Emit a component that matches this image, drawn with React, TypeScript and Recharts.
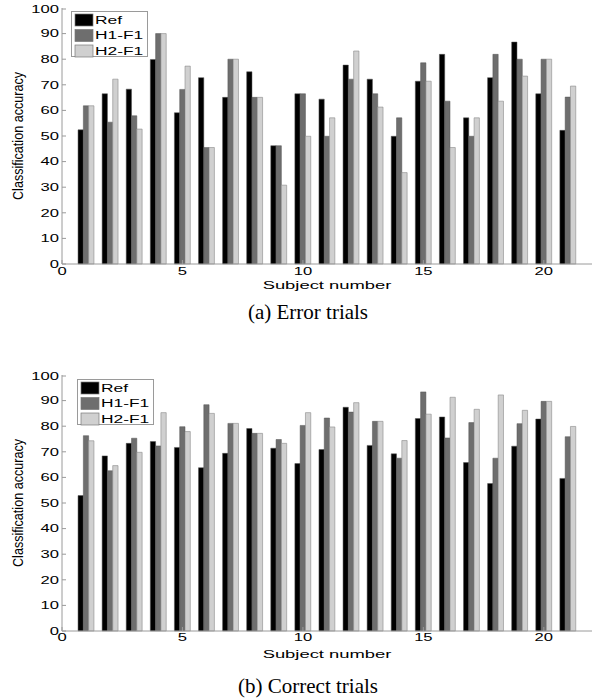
import React from "react";
import { BarChart, Bar, XAxis, YAxis, Legend } from "recharts";

const subjects = [1, 2, 3, 4, 5, 6, 7, 8, 9, 10, 11, 12, 13, 14, 15, 16, 17, 18, 19, 20, 21];
const seriesNames = ["Ref", "H1-F1", "H2-F1"];

// (a) Error trials
const errorRef = [52.4, 66.5, 68.3, 79.9, 59.1, 72.8, 65.1, 75.1, 46.2, 66.5, 64.4, 77.7, 72.2, 49.9, 71.4, 81.9, 57.1, 72.8, 86.7, 66.5, 52.2];
const errorH1 = [61.8, 55.4, 57.9, 90.0, 68.2, 45.5, 80.0, 65.1, 46.2, 66.5, 49.9, 72.2, 66.5, 57.1, 78.6, 63.6, 49.9, 81.9, 80.0, 80.0, 65.2];
const errorH2 = [61.8, 72.2, 52.7, 90.0, 77.3, 45.5, 80.0, 65.1, 30.8, 49.9, 57.1, 83.2, 61.3, 35.7, 71.4, 45.5, 57.1, 63.6, 73.4, 80.0, 69.5];

// (b) Correct trials
const correctRef = [52.9, 68.4, 73.3, 74.0, 71.7, 63.8, 69.4, 79.1, 71.4, 65.4, 70.9, 87.4, 72.5, 69.2, 83.0, 83.6, 65.8, 57.6, 72.2, 82.8, 59.6];
const correctH1 = [76.3, 62.6, 75.3, 72.3, 79.8, 88.4, 81.1, 77.2, 74.8, 80.3, 83.2, 85.5, 81.9, 67.5, 93.4, 75.4, 81.4, 67.5, 81.0, 89.7, 75.9];
const correctH2 = [74.3, 64.6, 69.8, 85.3, 77.9, 85.0, 81.1, 77.2, 73.3, 85.3, 79.7, 89.2, 81.9, 74.4, 84.7, 91.3, 86.6, 92.2, 86.2, 89.7, 79.9];

const xTicks = [0, 5, 10, 15, 20];
const yTicks = [0, 10, 20, 30, 40, 50, 60, 70, 80, 90, 100];

const COLORS = ["#000000", "#6e6e6e", "#d0d0d0"];
const AXIS = "#9a9a9a";
const FONT = "'Liberation Sans', Arial, Helvetica, sans-serif";
const SX = 1.58; // the figure is stretched sideways

// note: no "ref" key in rows, recharts spreads row fields into element props
function makeRows(a: number[], b: number[], c: number[]) {
  return subjects.map((s, i) => ({ subject: s, base: a[i], h1: b[i], h2: c[i] }));
}

function LeftTick(props: any) {
  const { x, y, payload } = props;
  return (
    <g>
      <line x1={x + 3} x2={x + 7} y1={y} y2={y} stroke={AXIS} />
      <text transform={`translate(${x},${y}) scale(${SX},1)`} textAnchor="end" dy="0.36em" fontSize={10.5} fontFamily={FONT} fill="#000">
        {payload.value}
      </text>
    </g>
  );
}

function BottomTick(props: any) {
  const { x, y, payload, margin } = props;
  return (
    <g>
      <line x1={x} x2={x} y1={y - margin} y2={y - margin - 4} stroke={AXIS} />
      <text transform={`translate(${x},${y}) scale(${SX},1)`} textAnchor="middle" dy="0.71em" fontSize={10.5} fontFamily={FONT} fill="#000">
        {payload.value}
      </text>
    </g>
  );
}

function TopTick(props: any) {
  const { x, y } = props;
  return <line x1={x} x2={x} y1={y} y2={y + 4} stroke={AXIS} />;
}

function RightTick(props: any) {
  const { x, y } = props;
  return <line x1={x - 4} x2={x} y1={y} y2={y} stroke={AXIS} />;
}

function LegendBox() {
  return (
    <svg width={78} height={47} style={{ display: "block" }}>
      <rect x={0.5} y={0.5} width={76} height={45} fill="#fff" stroke={AXIS} />
      {seriesNames.map((name, i) => (
        <g key={name}>
          <rect x={4} y={3 + i * 15.5} width={18} height={12} fill={COLORS[i]} stroke="#7a7a7a" strokeWidth={0.7} />
          <text transform={`translate(24,${9 + i * 15.5}) scale(${SX},1)`} dy="0.36em" fontSize={11} fontFamily={FONT} fill="#000">
            {name}
          </text>
        </g>
      ))}
    </svg>
  );
}

function Titles({ xLabelY }: { xLabelY: number }) {
  return (
    <svg width={592} height={300} style={{ position: "absolute", left: 0, top: 0, pointerEvents: "none" }}>
      <text transform={`translate(327,${xLabelY}) scale(1.6,1)`} textAnchor="middle" dy="0.36em" fontSize={11.5} fontFamily={FONT} fill="#000">
        Subject number
      </text>
      <text transform="translate(18,136) scale(1.15,1) rotate(-90)" textAnchor="middle" dy="0.36em" fontSize={12.6} fontFamily={FONT} fill="#000">
        Classification accuracy
      </text>
    </svg>
  );
}

function Panel({ rows, legendLeft, legendTop, tickGap }: { rows: any[]; legendLeft: number; legendTop: number; tickGap: number }) {
  return (
    <BarChart width={592} height={300} data={rows} margin={{ top: 8, right: 0, left: 0, bottom: 0 }} barGap={0}>
      <XAxis
        type="number"
        dataKey="subject"
        domain={[0, 22]}
        ticks={xTicks}
        height={36}
        tickSize={0}
        tickMargin={tickGap}
        tickLine={false}
        stroke={AXIS}
        tick={(p: any) => <BottomTick {...p} margin={tickGap} />}
      />
      <XAxis xAxisId="top" orientation="top" type="number" dataKey="subject" domain={[0, 22]} ticks={xTicks} height={0} tickSize={0} tickMargin={0} tickLine={false} stroke={AXIS} tick={(p: any) => <TopTick {...p} />} />
      <YAxis domain={[0, 100]} ticks={yTicks} width={62} tickSize={0} tickMargin={3} tickLine={false} stroke={AXIS} tick={(p: any) => <LeftTick {...p} />} />
      <YAxis yAxisId="right" orientation="right" domain={[0, 100]} ticks={yTicks} width={0} tickSize={0} tickMargin={0} tickLine={false} stroke={AXIS} tick={(p: any) => <RightTick {...p} />} />
      <Legend
        layout="vertical"
        align="center"
        verticalAlign="middle"
        content={() => <LegendBox />}
        wrapperStyle={{ left: legendLeft, top: legendTop, width: 78, height: 47 }}
      />
      <Bar dataKey="base" name={seriesNames[0]} fill={COLORS[0]} stroke="#555" strokeWidth={0.5} barSize={5.3} isAnimationActive={false} />
      <Bar dataKey="h1" name={seriesNames[1]} fill={COLORS[1]} stroke="#555" strokeWidth={0.5} barSize={5.3} isAnimationActive={false} />
      <Bar dataKey="h2" name={seriesNames[2]} fill={COLORS[2]} stroke="#8a8a8a" strokeWidth={0.6} barSize={5.3} isAnimationActive={false} />
    </BarChart>
  );
}

const captionStyle: React.CSSProperties = {
  position: "absolute",
  left: 0,
  width: 616,
  textAlign: "center",
  fontFamily: "'Liberation Serif', 'Times New Roman', serif",
  fontSize: 21,
  lineHeight: "22px",
  color: "#000",
  whiteSpace: "nowrap",
};

export default function App() {
  return (
    <div style={{ position: "absolute", left: 0, top: 0, width: 592, height: 700, background: "#fff", overflow: "hidden" }}>
      <div style={{ position: "absolute", left: 0, top: 0, width: 592, height: 300 }}>
        <Panel rows={makeRows(errorRef, errorH1, errorH2)} legendLeft={71} legendTop={11} tickGap={4} />
        <Titles xLabelY={285} />
      </div>
      <div style={{ ...captionStyle, top: 301 }}>(a) Error trials</div>
      <div style={{ position: "absolute", left: 0, top: 367, width: 592, height: 300 }}>
        <Panel rows={makeRows(correctRef, correctH1, correctH2)} legendLeft={77} legendTop={12} tickGap={3} />
        <Titles xLabelY={287} />
      </div>
      <div style={{ ...captionStyle, top: 675 }}>(b) Correct trials</div>
    </div>
  );
}
